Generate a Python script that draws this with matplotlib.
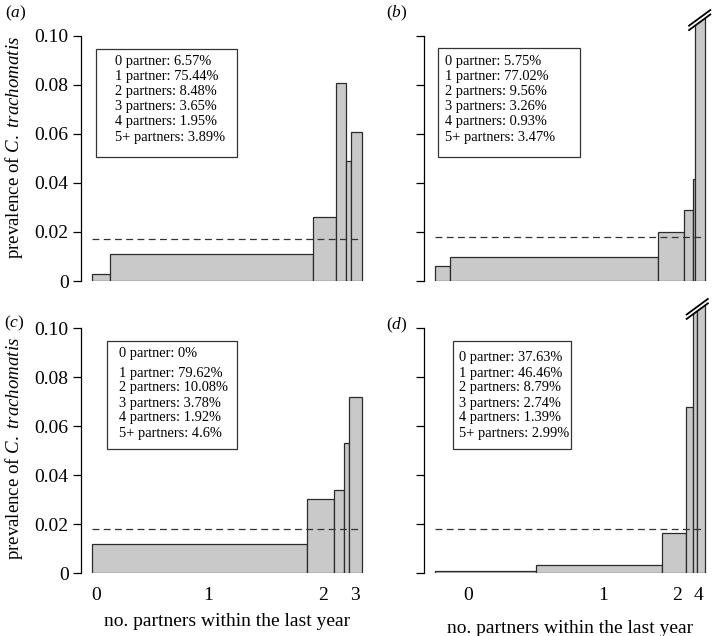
import matplotlib
matplotlib.use("Agg")
import matplotlib.pyplot as plt
from matplotlib.patches import Rectangle, Polygon
import numpy as np

plt.rcParams['font.family'] = ['Liberation Serif', 'DejaVu Serif']
plt.rcParams['mathtext.fontset'] = 'custom'
plt.rcParams['mathtext.rm'] = 'Liberation Serif'
plt.rcParams['mathtext.it'] = 'Liberation Serif:italic'

# data
groups = ["0 partner", "1 partner", "2 partners", "3 partners", "4 partners", "5+ partners"]

shares_a = [6.57, 75.44, 8.48, 3.65, 1.95, 3.89]
prev_a = [0.003, 0.011, 0.026, 0.081, 0.049, 0.061]
overall_a = 0.017

shares_b = [5.75, 77.02, 9.56, 3.26, 0.93, 3.47]
prev_b = [0.006, 0.0097, 0.020, 0.029, 0.0415, 0.11]   # last bar runs off the scale
overall_b = 0.018

shares_c = [0, 79.62, 10.08, 3.78, 1.92, 4.6]
prev_c = [0, 0.012, 0.0305, 0.034, 0.053, 0.072]
overall_c = 0.018

shares_d = [37.63, 46.46, 8.79, 2.74, 1.39, 2.99]
prev_d = [0.0008, 0.0034, 0.0163, 0.068, 0.11, 0.11]    # last two run off the scale
overall_d = 0.018

xticks_c = [0.017, 0.43, 0.856, 0.974]
xticklabels_c = ["0", "1", "2", "3"]
xticks_d = [0.122, 0.624, 0.897, 0.978]
xticklabels_d = ["0", "1", "2", "4"]

W, H = 716, 636
AXW, AXH = 291.6, 274.4
YMAX = 0.112

fig = plt.figure(figsize=(W / 100, H / 100), dpi=100)


def make_ax(left_px, bottom_px):
    return fig.add_axes([left_px / W, (H - bottom_px) / H, AXW / W, AXH / H])


def panel(ax, left_px, bottom_px, shares, prev, overall, box, text_x, text_ys,
          ylabel_y=None, brk=None, n_tall=0):
    s = np.array(shares) / np.sum(shares)
    edges = np.concatenate([[0], np.cumsum(s)])
    bars = ax.bar(edges[:-1], prev, width=s, align='edge', color='#c9c9c9',
                  edgecolor='#2b2b2b', linewidth=0.9)
    ax.plot([0, 1], [overall, overall], color='#333333', lw=0.9,
            dashes=(5.5, 3.5))
    ax.set_xlim(-0.04, 1.04)
    ax.set_ylim(0, YMAX)
    for side in ['top', 'right', 'bottom']:
        ax.spines[side].set_visible(False)
    ax.spines['left'].set_bounds(0, 0.10)
    ax.spines['left'].set_linewidth(0.9)
    ax.set_yticks([0, 0.02, 0.04, 0.06, 0.08, 0.10])
    if ylabel_y is not None:
        ax.set_yticklabels(["0", "0.02", "0.04", "0.06", "0.08", "0.10"])
        ax.set_ylabel(r'prevalence of $\mathit{C.\ trachomatis}$', fontsize=13.6)
        ax.yaxis.set_label_coords(-0.192, ylabel_y)
    else:
        ax.set_yticklabels([])
    ax.tick_params(axis='y', length=6, width=0.9, labelsize=14, pad=3)
    ax.set_xticks([])

    # box with the group shares
    x0, y0, x1, y1 = box
    ax.add_patch(Rectangle(((x0 - left_px) / AXW, (bottom_px - y1) / AXH),
                           (x1 - x0) / AXW, (y1 - y0) / AXH,
                           transform=ax.transAxes, fill=False,
                           edgecolor='#333333', lw=0.9))
    for g, sh, ty in zip(groups, shares, text_ys):
        ax.text((text_x - left_px) / AXW, (bottom_px - ty) / AXH,
                f"{g}: {sh:g}%", transform=ax.transAxes, fontsize=10.4,
                va='center', ha='left')

    # axis break on bars that run off the scale
    if brk is not None:
        xc, yc = brk
        dx, dy, off = 0.042, 0.0034, 0.0009
        slope = dy / dx
        xa, xb = xc - 0.07, xc + 0.07
        clip = Polygon([(xa, 0), (xb, 0),
                        (xb, yc - off + slope * (xb - xc)),
                        (xa, yc - off + slope * (xa - xc))],
                       closed=True, transform=ax.transData)
        for b in bars.patches[-n_tall:]:
            b.set_clip_path(clip)
        for o in (-off, off):
            ax.plot([xc - dx, xc + dx], [yc + o - dy, yc + o + dy],
                    color='black', lw=1.3, clip_on=False, solid_capstyle='butt')


ax_a = make_ax(81, 281)
panel(ax_a, 81, 281, shares_a, prev_a, overall_a, (96, 49, 237, 157), 115,
      [62, 77, 92, 107, 122, 138], ylabel_y=0.485)

ax_b = make_ax(424, 281)
panel(ax_b, 424, 281, shares_b, prev_b, overall_b, (438, 48, 580, 157), 445,
      [62, 77, 92, 107, 122, 138], brk=(0.981, 0.1065), n_tall=1)

ax_c = make_ax(81, 573.3)
panel(ax_c, 81, 573.3, shares_c, prev_c, overall_c, (107, 341, 237, 449), 119,
      [353, 373, 388, 403, 418, 434], ylabel_y=0.456)

ax_d = make_ax(424, 573.3)
panel(ax_d, 424, 573.3, shares_d, prev_d, overall_d, (453, 341, 571, 449), 459,
      [357, 373, 387, 403, 418, 434], brk=(0.972, 0.1079), n_tall=2)

for ax, ticks, labels, ylab in [(ax_c, xticks_c, xticklabels_c, -0.145),
                                (ax_d, xticks_d, xticklabels_d, -0.172)]:
    ax.set_xticks(ticks)
    ax.set_xticklabels(labels)
    ax.tick_params(axis='x', length=0, labelsize=14, pad=10)
    ax.set_xlabel("no. partners within the last year", fontsize=14)
    ax.xaxis.set_label_coords(0.5, ylab)

for lab, x, y in [("a", 5, 13), ("b", 386, 13), ("c", 4, 323), ("d", 386, 325)]:
    fig.text(x / W, 1 - y / H, "($\\mathit{" + lab + "}$)", fontsize=12.5,
             va='center', ha='left')

fig.savefig("out.png", dpi=100)
